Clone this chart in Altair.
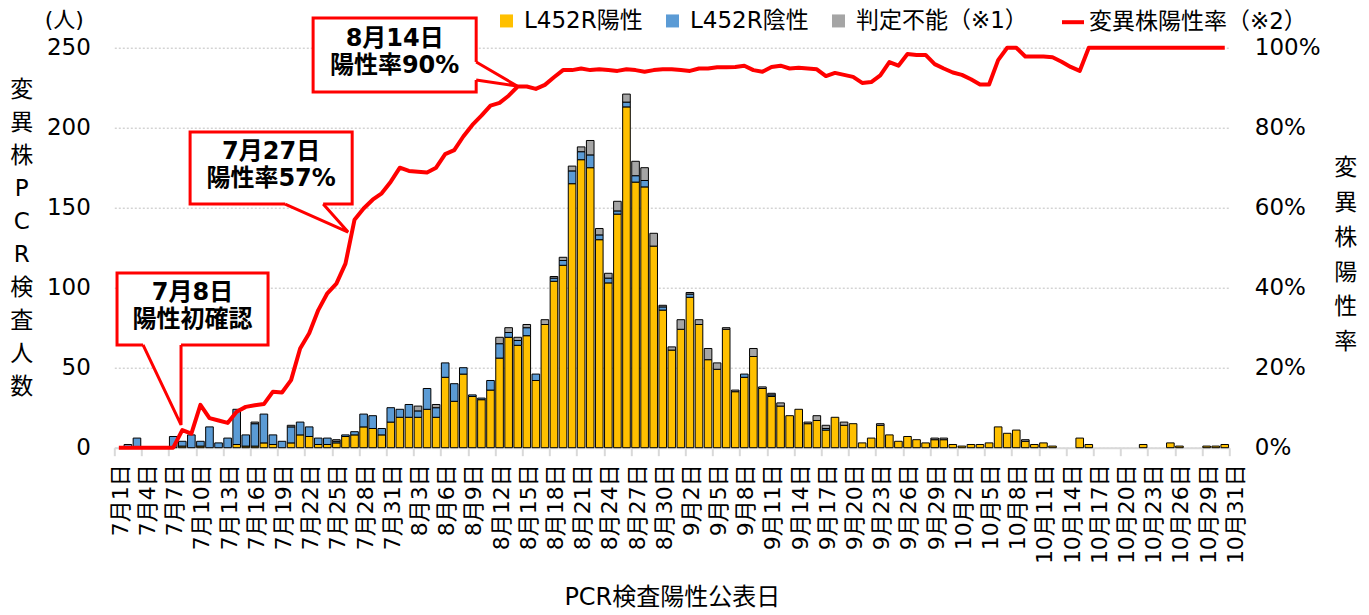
import json
import altair as alt
import pandas as pd

# ---------------- data ----------------
dates = pd.date_range("2021-07-01", "2021-10-31", freq="D")
day_labels = [f"{d.month}月{d.day}日" for d in dates]

series_names = ["L452R陽性", "L452R陰性", "判定不能（※1）"]
series_colors = ["#FFC000", "#5B9BD5", "#A5A5A5"]
rate_name = "変異株陽性率（※2）"

positive = [
    0, 0, 0, 0, 0, 0, 0, 1, 0, 1,
    0, 0, 0, 2, 1, 1, 3, 2, 0, 3,
    8, 7, 2, 2, 3, 7, 8, 13, 12, 8,
    16, 19, 19, 19, 24, 19, 44, 29, 46, 32,
    30, 36, 56, 69, 64, 70, 42, 77, 104, 114,
    165, 180, 175, 130, 103, 146, 213, 166, 163, 126,
    86, 61, 74, 94, 77, 55, 49, 74, 35, 44,
    57, 37, 32, 26, 20, 24, 15, 17, 11, 19,
    14, 15, 3, 6, 14, 8, 4, 7, 5, 3,
    5, 5, 2, 1, 2, 2, 3, 13, 9, 11,
    4, 2, 3, 1, 0, 0, 6, 2, 0, 0,
    0, 0, 0, 2, 0, 0, 3, 1, 0, 0,
    1, 1, 2,
]
negative = [
    0, 2, 6, 0, 0, 0, 7, 3, 8, 3,
    13, 3, 6, 22, 7, 14, 18, 6, 4, 10,
    8, 6, 4, 4, 1, 1, 2, 8, 8, 4,
    9, 5, 8, 4, 13, 6, 9, 11, 4, 1,
    1, 6, 9, 3, 3, 5, 4, 0, 2, 3,
    8, 5, 8, 3, 3, 2, 3, 4, 4, 0,
    2, 0, 0, 2, 0, 0, 0, 0, 0, 2,
    0, 0, 1, 0, 0, 0, 0, 0, 1, 0,
    0, 0, 0, 0, 0, 0, 0, 0, 0, 0,
    0, 0, 0, 0, 0, 0, 0, 0, 0, 0,
    0, 0, 0, 0, 0, 0, 0, 0, 0, 0,
    0, 0, 0, 0, 0, 0, 0, 0, 0, 0,
    0, 0, 0,
]
undetermined = [
    0, 0, 0, 0, 0, 0, 0, 0, 0, 0,
    0, 0, 0, 0, 0, 1, 0, 0, 0, 1,
    0, 0, 0, 0, 1, 0, 0, 0, 0, 0,
    0, 0, 0, 3, 0, 2, 0, 0, 0, 0,
    0, 0, 4, 3, 2, 2, 0, 3, 1, 2,
    3, 3, 9, 4, 3, 6, 5, 9, 8, 8,
    1, 2, 6, 1, 3, 7, 4, 1, 1, 0,
    5, 1, 1, 2, 0, 0, 1, 3, 2, 0,
    2, 0, 0, 0, 1, 0, 0, 0, 0, 0,
    1, 1, 0, 0, 0, 0, 0, 0, 0, 0,
    1, 0, 0, 0, 0, 0, 0, 0, 0, 0,
    0, 0, 0, 0, 0, 0, 0, 0, 0, 0,
    0, 0, 0,
]
variant_rate = [
    0, 0, 0, 0, 0, 0, 0, 4.4, 3.5, 10.7,
    7.4, 6.8, 6.2, 9.0, 10.2, 10.6, 10.9, 14.0, 13.8, 16.9,
    24.8, 28.6, 34.4, 38.6, 41.0, 46.0, 57.0, 59.8, 62.0, 63.6,
    66.5, 70.0, 69.2, 69.0, 68.8, 70.0, 73.4, 74.4, 77.8, 80.7,
    83.0, 85.5, 86.2, 88.0, 90.3, 90.3, 89.7, 90.7, 92.6, 94.4,
    94.4, 94.8, 94.4, 94.6, 94.4, 94.2, 94.6, 94.4, 94.0, 94.4,
    94.6, 94.6, 94.4, 94.2, 94.8, 94.8, 95.1, 95.1, 95.2, 95.5,
    94.4, 94.0, 95.2, 95.5, 94.8, 95.0, 94.8, 94.6, 92.9, 93.7,
    93.2, 92.7, 91.2, 91.4, 93.1, 96.4, 95.5, 98.4, 98.2, 98.2,
    95.9, 94.8, 93.8, 93.2, 92.1, 90.8, 90.8, 96.9, 100, 100,
    97.8, 97.8, 97.8, 97.6, 96.5, 95.2, 94.2, 100, 100, 100,
    100, 100, 100, 100, 100, 100, 100, 100, 100, 100,
    100, 100, 100,
]

tick_labels = [day_labels[i] for i in range(0, 121, 3)] + [day_labels[-1]]
tick_positions = [-0.5 + 3 * k for k in range(len(tick_labels))]

# callouts (axis units: day index on x, persons on y)
callout_lines = [["7月8日", "陽性初確認"], ["7月27日", "陽性率57%"], ["8月14日", "陽性率90%"]]
callout_x0 = [-0.2, 7.86, 21.43]
callout_x1 = [16.46, 25.74, 39.42]
callout_y0 = [64.2, 152.3, 222.3]
callout_y1 = [109.2, 197.3, 268.6]
pointer_base_a = [(2.67, 64.2), (18.34, 152.3), (39.42, 241.1)]
pointer_tip = [(6.86, 14.2), (25.29, 134.8), (43.95, 226.0)]
pointer_base_b = [(6.86, 64.2), (22.54, 152.3), (39.42, 229.8)]

# ---------------- tables ----------------
rows = []
for i in range(len(dates)):
    for order, (name, vals) in enumerate(zip(series_names, [positive, negative, undetermined])):
        rows.append({"idx": i, "series": name, "order": order, "value": vals[i]})
bar_df = pd.DataFrame(rows)
rate_df = pd.DataFrame({"idx": list(range(len(dates))), "rate": variant_rate, "name": rate_name})

box_df = pd.DataFrame({"x0": callout_x0, "x1": callout_x1, "y0": callout_y0, "y1": callout_y1})

text_rows = []
for c, lines in enumerate(callout_lines):
    cx = (callout_x0[c] + callout_x1[c]) / 2
    cy = (callout_y0[c] + callout_y1[c]) / 2 + 1.5
    text_rows.append({"tx": cx, "ty": cy + 8.45, "t": lines[0]})
    text_rows.append({"tx": cx, "ty": cy - 8.45, "t": lines[1]})
text_df = pd.DataFrame(text_rows)


def tri_span(tri, x):
    ys = []
    for (x1, y1), (x2, y2) in [(tri[0], tri[1]), (tri[1], tri[2]), (tri[2], tri[0])]:
        if min(x1, x2) - 1e-9 <= x <= max(x1, x2) + 1e-9:
            if abs(x1 - x2) < 1e-9:
                ys += [y1, y2]
            else:
                ys.append(y1 + (y2 - y1) * (x - x1) / (x2 - x1))
    return min(ys), max(ys)


tri_rows, line_rows, erase_rows = [], [], []
for c in range(len(callout_lines)):
    tri = [pointer_base_a[c], pointer_tip[c], pointer_base_b[c]]
    for xv in sorted(set(p[0] for p in tri)):
        lo, hi = tri_span(tri, xv)
        tri_rows.append({"cid": c, "px": xv, "lo": lo, "hi": hi})
    for k, p in enumerate(tri):
        line_rows.append({"cid": c, "k": k, "px": p[0], "py": p[1]})
    for k, p in enumerate([pointer_base_a[c], pointer_base_b[c]]):
        erase_rows.append({"cid": c, "k": k, "px": p[0], "py": p[1]})
tri_df = pd.DataFrame(tri_rows)
pline_df = pd.DataFrame(line_rows)
erase_df = pd.DataFrame(erase_rows)

# ---------------- scales / axes ----------------
TICK_FS = 23
X_FS = 22
TITLE_FS = 23
LEG_FS = 23
x_scale = alt.Scale(domain=[-0.5, len(dates) - 0.5], nice=False, zero=False)
y_scale = alt.Scale(domain=[0, 250], nice=False, zero=False)
r_scale = alt.Scale(domain=[0, 100], nice=False, zero=False)

label_array = json.dumps(tick_labels, ensure_ascii=False)
x_axis = alt.Axis(
    values=tick_positions,
    labelExpr=f"{label_array}[round((datum.value + 0.5) / 3)]",
    labelAngle=-90, labelFontSize=X_FS, labelPadding=8, labelOffset=6,
    labelOverlap=False, labelBound=False, labelFlush=False, labelColor="#000000",
    tickSize=8, tickColor="#D9D9D9", tickWidth=2,
    domainColor="#D9D9D9", domainWidth=2, grid=False,
    title="PCR検査陽性公表日", titleFontSize=24, titleFontWeight="normal",
    titleColor="#000000", titleY=150, titleBaseline="middle",
)
y_axis = alt.Axis(
    values=list(range(0, 251, 50)), grid=True, gridColor="#BFBFBF", gridDash=[2, 2], gridWidth=1,
    domain=False, ticks=False, labelFontSize=TICK_FS, labelPadding=24, labelColor="#000000",
    title=list("変異株PCR検査人数"), titleAngle=0, titleAlign="center", titleBaseline="top",
    titleFontSize=TITLE_FS, titleFontWeight="normal", titleColor="#000000",
    titleLineHeight=33, titleX=-93, titleY=31,
)
r_axis = alt.Axis(
    orient="right", values=list(range(0, 101, 20)), labelExpr="datum.value + '%'",
    grid=False, domain=False, ticks=False, labelFontSize=TICK_FS, labelPadding=25, labelColor="#000000",
    title=list("変異株陽性率"), titleAngle=0, titleAlign="center", titleBaseline="top",
    titleFontSize=TITLE_FS, titleFontWeight="normal", titleColor="#000000",
    titleLineHeight=34.8, titleX=116, titleY=109,
)

fill_legend = alt.Legend(
    orient="none", legendX=380.7, legendY=-38.5, direction="horizontal", title=None,
    symbolType="square", symbolSize=169, symbolStrokeWidth=0, labelFontSize=LEG_FS,
    labelOffset=6, columnPadding=18, labelLimit=400, labelColor="#000000",
)
stroke_legend = alt.Legend(
    orient="none", legendX=945.7, legendY=-38.5, direction="horizontal", title=None,
    symbolType="stroke", symbolSize=484, symbolStrokeWidth=4, labelFontSize=LEG_FS,
    labelOffset=3, labelLimit=400, labelColor="#000000",
)

# ---------------- layers ----------------
bars = alt.Chart(bar_df).transform_filter("datum.value > 0").transform_stack(
    stack="value", groupby=["idx"], as_=["v0", "v1"],
    sort=[alt.SortField(field="order", order="ascending")],
).transform_calculate(
    xa="datum.idx - 0.42", xb="datum.idx + 0.42"
).mark_bar(stroke="#000000", strokeWidth=1).encode(
    x=alt.X("xa:Q", scale=x_scale, axis=x_axis),
    x2="xb:Q",
    y=alt.Y("v0:Q", scale=y_scale, axis=y_axis, stack=None),
    y2="v1:Q",
    fill=alt.Fill("series:N", scale=alt.Scale(domain=series_names, range=series_colors), legend=fill_legend),
)

boxes = alt.Chart(box_df).mark_rect(fill="white", stroke="#FF0000", strokeWidth=3).encode(
    x=alt.X("x0:Q", scale=x_scale, axis=x_axis), x2="x1:Q",
    y=alt.Y("y0:Q", scale=y_scale, axis=y_axis, stack=None), y2="y1:Q",
)
tri_fill = alt.Chart(tri_df).mark_area(color="white", opacity=1).encode(
    x=alt.X("px:Q", scale=x_scale, axis=x_axis),
    y=alt.Y("lo:Q", scale=y_scale, axis=y_axis, stack=None), y2="hi:Q",
    detail="cid:N",
)
erase = alt.Chart(erase_df).mark_line(color="white", strokeWidth=4.5).encode(
    x=alt.X("px:Q", scale=x_scale, axis=x_axis),
    y=alt.Y("py:Q", scale=y_scale, axis=y_axis),
    detail="cid:N", order="k:Q",
)
plines = alt.Chart(pline_df).mark_line(color="#FF0000", strokeWidth=3, strokeJoin="miter").encode(
    x=alt.X("px:Q", scale=x_scale, axis=x_axis),
    y=alt.Y("py:Q", scale=y_scale, axis=y_axis),
    detail="cid:N", order="k:Q",
)
texts = alt.Chart(text_df).mark_text(
    fontSize=24, fontWeight="bold", color="#000000", align="center", baseline="middle"
).encode(
    x=alt.X("tx:Q", scale=x_scale, axis=x_axis),
    y=alt.Y("ty:Q", scale=y_scale, axis=y_axis),
    text="t:N",
)
unit = alt.Chart(pd.DataFrame({"t": ["(人)"]})).mark_text(
    fontSize=22, align="center", baseline="middle", color="#000000"
).encode(text="t:N", x=alt.value(-50), y=alt.value(-27.2))

line = alt.Chart(rate_df).mark_line(strokeWidth=4, strokeJoin="round").encode(
    x=alt.X("idx:Q", scale=x_scale, axis=x_axis),
    y=alt.Y("rate:Q", scale=r_scale, axis=r_axis),
    stroke=alt.Stroke("name:N", scale=alt.Scale(domain=[rate_name], range=["#FF0000"]), legend=stroke_legend),
)

left = alt.layer(bars, boxes, tri_fill, erase, plines, texts, unit)
chart = alt.layer(left, line).resolve_scale(y="independent").properties(
    width=1115, height=400,
    autosize=alt.AutoSizeParams(type="none"),
    padding={"left": 106.3, "top": 39.7, "right": 131, "bottom": 163},
).configure(
    font="DejaVu Sans, Noto Sans CJK JP"
).configure_view(stroke=None)

chart.save("out.html", embed_options={"renderer": "svg", "actions": False})
